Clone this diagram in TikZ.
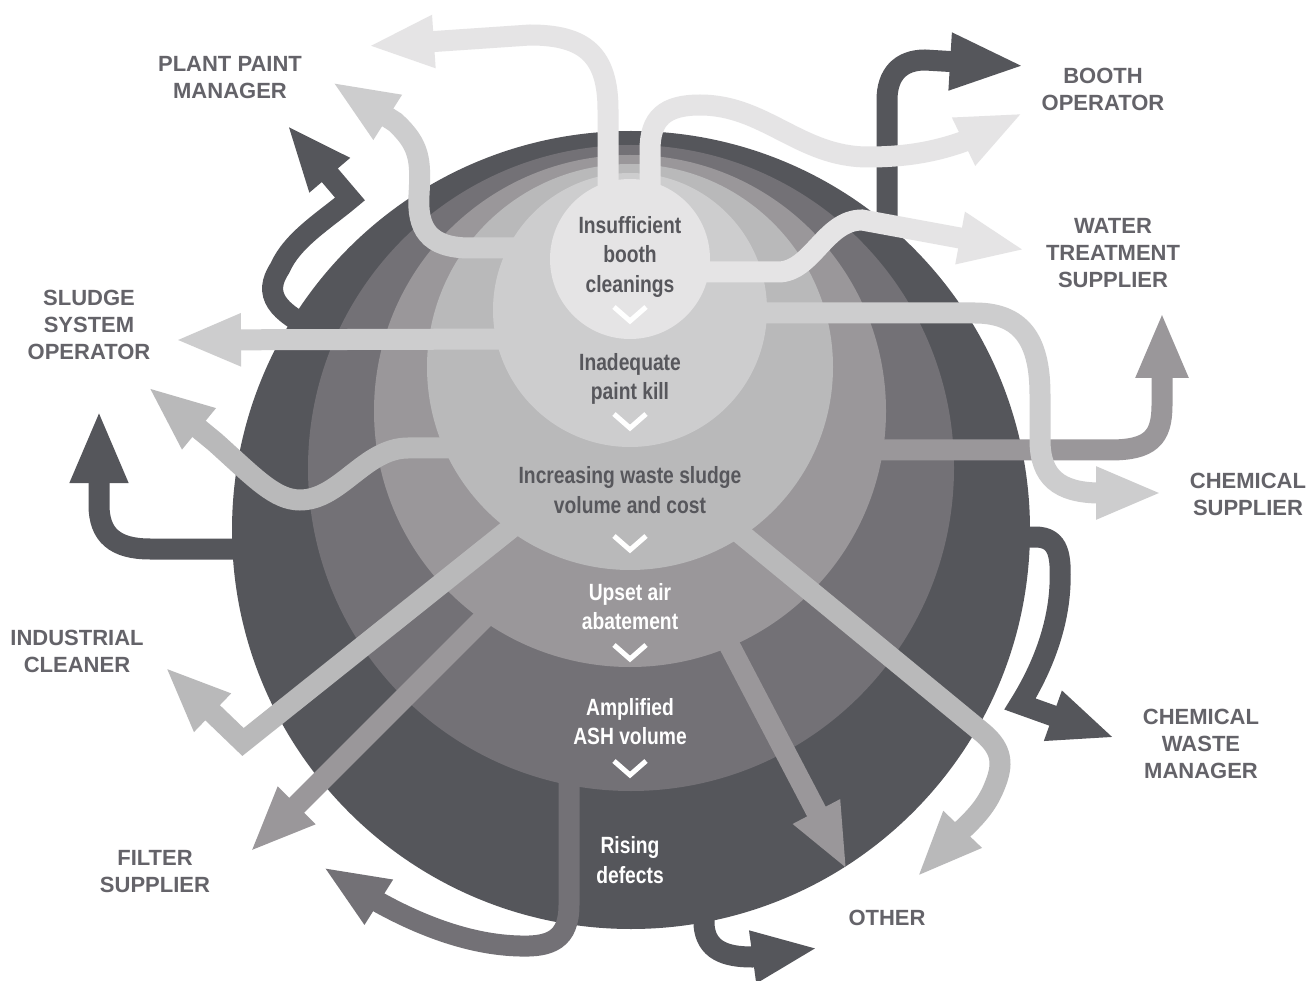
\documentclass[tikz,border=0pt]{standalone}
\usepackage{fontspec}
\setmainfont{Liberation Sans}
\newfontfamily\narrowfont[FakeStretch=0.82]{Liberation Sans}
\usetikzlibrary{arrows.meta}

\definecolor{ringA}{HTML}{55565B}
\definecolor{ringB}{HTML}{737176}
\definecolor{ringC}{HTML}{9A979A}
\definecolor{ringD}{HTML}{B9B9BA}
\definecolor{ringE}{HTML}{CDCDCE}
\definecolor{ringF}{HTML}{E5E4E5}
\definecolor{labelgray}{HTML}{646369}
\definecolor{causegray}{HTML}{57575C}

\begin{document}
\begin{tikzpicture}[x=1pt, y=-1pt, >={Triangle[width=48pt,length=66pt]}]
	\tikzstyle{ring} = [circle, inner sep=0pt, draw=none]
	\tikzstyle{flow} = [line width=21pt, ->]
	\tikzstyle{who} = [text=labelgray, font=\fontsize{22}{27}\selectfont\bfseries, align=center]
	\tikzstyle{cause} = [font=\narrowfont\fontsize{23.5}{29.5}\selectfont\bfseries, align=center]
	\tikzstyle{chevron} = [draw=white, line width=5pt]

	\useasboundingbox (0,0) rectangle (1315,981);
	\fill [white] (0,0) rectangle (1315,981);

	\node [ring, fill=ringA, minimum size=798pt] (ringA) at (631,530) {};
	\draw [flow, ringA] (315,330) .. controls (278,312) and (262,295) .. (280,268) .. controls (292,240) and (325,220) .. (350,199) -- (287,125);
	\draw [flow, ringA, -{Triangle[width=53pt,length=73pt]}] (250,549) -- (150,549) .. controls (115,549) and (99,535) .. (99,505) -- (99,410);
	\draw [flow, ringA, -{Triangle[width=52pt,length=75pt]}] (887,235) -- (887,100) .. controls (887,75) and (900,60) .. (925,60) -- (1025,66);
	\draw [flow, ringA] (1015,537) -- (1035,537) .. controls (1060,537) and (1061,557) .. (1060,585) .. controls (1058,630) and (1040,672) .. (1020,704) -- (1115,738);
	\draw [flow, ringA] (704,905) -- (704,925) .. controls (706,950) and (725,957) .. (752,957) -- (818,948);

	\node [ring, fill=ringB, minimum size=646pt] (ringB) at (631,468) {};
	\draw [flow, ringB] (569,765) -- (569,905) .. controls (569,940) and (550,947) .. (520,946) .. controls (470,945) and (420,925) .. (380,903) -- (323,867);

	\node [ring, fill=ringC, minimum size=512pt] (ringC) at (630,411) {};
	\draw [flow, ringC] (865,450) -- (1110,450) .. controls (1150,450) and (1162,438) .. (1162,405) -- (1162,312);
	\draw [flow, ringC] (505,597) -- (250,852);
	\draw [flow, ringC] (712,612) -- (847,870);

	\node [ring, fill=ringD, minimum size=406pt] (ringD) at (630,367) {};
	\draw [flow, ringD] (460,448) -- (408,448) .. controls (365,448) and (340,500) .. (300,500) .. controls (275,500) and (255,478) .. (215,442) -- (148,387);
	\draw [flow, ringD] (540,505) -- (243,742) -- (165,667);
	\draw [flow, ringD] (724,520) -- (983,733) .. controls (1003,750) and (1003,765) .. (995,785) .. controls (988,803) and (978,815) .. (962,830) -- (917,877);

	\node [ring, fill=ringE, minimum size=274pt] (ringE) at (630,310) {};
	\draw [flow, ringE] (530,248) -- (470,248) .. controls (428,248) and (417,228) .. (419,195) .. controls (421,160) and (420,145) .. (395,122) -- (332,82);
	\draw [flow, ringE] (520,339) -- (175,340);
	\draw [flow, ringE] (745,313) -- (975,313) .. controls (1025,313) and (1040,345) .. (1040,395) -- (1040,440) .. controls (1040,478) and (1060,492) .. (1097,493) -- (1162,493);

	\node [ring, fill=ringF, minimum size=160pt] (ringF) at (630,259) {};
	\draw [flow, ringF] (608,200) -- (608,110) .. controls (608,55) and (585,35) .. (530,35) -- (368,46);
	\draw [flow, ringF] (650,200) -- (650,150) .. controls (650,118) and (665,105) .. (700,105) .. controls (765,105) and (800,157) .. (868,157) .. controls (905,157) and (935,152) .. (965,141) -- (1023,113);
	\draw [flow, ringF] (690,272) -- (778,272) .. controls (812,272) and (825,220) .. (862,220) -- (1025,250);

	\node [cause, text=causegray] (insuff) at (630,256.5) {Insufficient\\booth\\cleanings};
	\node [cause, text=causegray, below of=insuff, node distance=122.5pt] (paintkill) {Inadequate\\paint kill};
	\node [cause, text=causegray, below of=paintkill, node distance=111pt] (sludgecost) {Increasing waste sludge\\volume and cost};
	\node [cause, text=white, below of=sludgecost, node distance=116.5pt] (airabate) {Upset air\\abatement};
	\node [cause, text=white, below of=airabate, node distance=115pt] (ashvol) {Amplified\\ASH volume};
	\node [cause, text=white, below of=ashvol, node distance=138.5pt] (defects) {Rising\\defects};

	\draw [chevron] (614,307) -- (630,321) -- (646,307);
	\draw [chevron] (614,414) -- (630,428) -- (646,414);
	\draw [chevron] (614,536) -- (630,550) -- (646,536);
	\draw [chevron] (614,645) -- (630,659) -- (646,645);
	\draw [chevron] (614,761) -- (630,775) -- (646,761);

	\node [who] (plant) at (230,77.5) {PLANT PAINT\\MANAGER};
	\node [who] (booth) at (1103,89.5) {BOOTH\\OPERATOR};
	\node [who] (water) at (1113,253) {WATER\\TREATMENT\\SUPPLIER};
	\node [who] (sludge) at (89,325) {SLUDGE\\SYSTEM\\OPERATOR};
	\node [who] (chemsup) at (1248,494.5) {CHEMICAL\\SUPPLIER};
	\node [who] (cleaner) at (77,651.5) {INDUSTRIAL\\CLEANER};
	\node [who] (chemwaste) at (1201,744) {CHEMICAL\\WASTE\\MANAGER};
	\node [who] (filter) at (155,871.5) {FILTER\\SUPPLIER};
	\node [who] (other) at (887,918) {OTHER};
\end{tikzpicture}
\end{document}
